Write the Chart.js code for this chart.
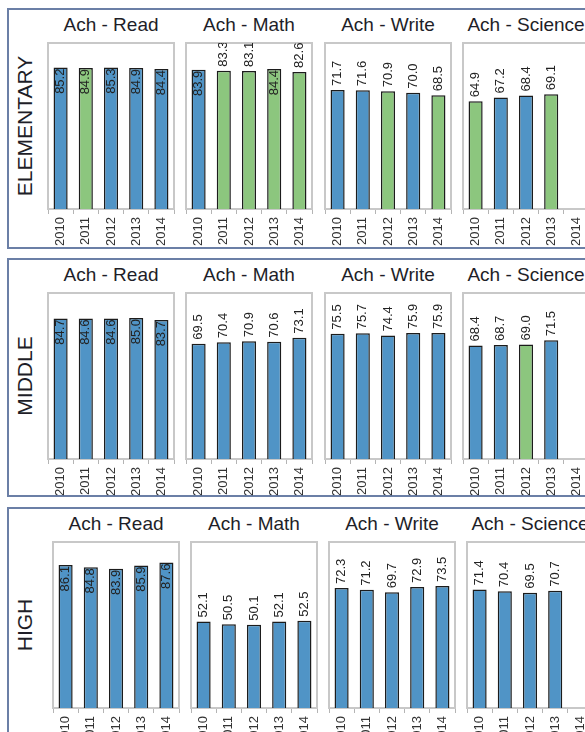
<!DOCTYPE html>
<html>
<head>
<meta charset="utf-8">
<script src="https://cdn.jsdelivr.net/npm/chart.js@4.4.1/dist/chart.umd.min.js"></script>
<style>
  body { margin: 0; width: 585px; height: 732px; overflow: hidden; background: #fff; position: relative;
         font-family: "Liberation Sans", Arial, sans-serif; }
  .group { position: absolute; border: 2px solid #6b7fa6; box-sizing: border-box; }
  .level { position: absolute; width: 200px; height: 24px; line-height: 24px; text-align: center;
           font-size: 21px; color: #1e1e28; transform: rotate(-90deg); }
  .title { position: absolute; height: 22px; line-height: 22px; text-align: center;
           font-size: 19px; color: #1e1e28; white-space: nowrap; }
  canvas { position: absolute; }
</style>
</head>
<body>
<script>
const years = ["2010", "2011", "2012", "2013", "2014"];
const subjects = ["Ach - Read", "Ach - Math", "Ach - Write", "Ach - Science"];
const levels = ["ELEMENTARY", "MIDDLE", "HIGH"];

// one list per subject (Read, Math, Write, Science), values by year
const elementaryScores = [
  [85.2, 84.9, 85.3, 84.9, 84.4],
  [83.9, 83.3, 83.1, 84.4, 82.6],
  [71.7, 71.6, 70.9, 70.0, 68.5],
  [64.9, 67.2, 68.4, 69.1, null],
];
const middleScores = [
  [84.7, 84.6, 84.6, 85.0, 83.7],
  [69.5, 70.4, 70.9, 70.6, 73.1],
  [75.5, 75.7, 74.4, 75.9, 75.9],
  [68.4, 68.7, 69.0, 71.5, null],
];
const highScores = [
  [86.1, 84.8, 83.9, 85.9, 87.6],
  [52.1, 50.5, 50.1, 52.1, 52.5],
  [72.3, 71.2, 69.7, 72.9, 73.5],
  [71.4, 70.4, 69.5, 70.7, null],
];

// 1 = green bar
const elementaryFlags = [
  [0, 1, 0, 0, 0],
  [0, 1, 1, 1, 1],
  [0, 0, 1, 0, 1],
  [1, 0, 0, 1, 0],
];
const middleFlags = [
  [0, 0, 0, 0, 0],
  [0, 0, 0, 0, 0],
  [0, 0, 0, 0, 0],
  [0, 0, 1, 0, 0],
];
const highFlags = [
  [0, 0, 0, 0, 0],
  [0, 0, 0, 0, 0],
  [0, 0, 0, 0, 0],
  [0, 0, 0, 0, 0],
];

const levelScores = [elementaryScores, middleScores, highScores];
const levelFlags = [elementaryFlags, middleFlags, highFlags];

const BLUE = "#5094c6";
const GREEN = "#8cc67e";
const FONT = "'Liberation Sans', Arial, sans-serif";

// layout of the small multiples
const plotTops = [43, 293, 542];
const plotLefts = [
  [48, 186, 325, 463],
  [48, 186, 325, 463],
  [53, 191, 329, 467],
];
const groupBoxes = [
  { top: 8, height: 241 },
  { top: 258, height: 239 },
  { top: 507, height: 300 },
];
const plotW = 126;
const plotH = 166;
const axisH = 40;
const padX = 6;

const plotFrame = {
  id: "plotFrame",
  beforeDatasetsDraw(chart) {
    const { ctx, chartArea: a } = chart;
    ctx.save();
    ctx.strokeStyle = "#c8c8c8";
    ctx.lineWidth = 2;
    ctx.strokeRect(a.left, a.top, a.right - a.left, a.bottom - a.top);
    ctx.restore();
  },
};

const barValues = {
  id: "barValues",
  afterDatasetsDraw(chart) {
    const { ctx, chartArea: a } = chart;
    const meta = chart.getDatasetMeta(0);
    const data = chart.data.datasets[0].data;
    ctx.save();
    ctx.beginPath();
    ctx.rect(a.left, a.top, a.right - a.left, a.bottom - a.top);
    ctx.clip();
    ctx.font = "13px " + FONT;
    ctx.fillStyle = "#222";
    ctx.textBaseline = "middle";
    meta.data.forEach((bar, i) => {
      const v = data[i];
      if (v == null) return;
      const text = v.toFixed(1);
      ctx.save();
      ctx.translate(bar.x, bar.y);
      ctx.rotate(-Math.PI / 2);
      if (v >= 83.5) {
        // high bars carry the value inside, hanging from the top
        ctx.textAlign = "right";
        ctx.fillText(text, -1, 0);
      } else {
        ctx.textAlign = "left";
        ctx.fillText(text, 4, 0);
      }
      ctx.restore();
    });
    ctx.restore();
  },
};

function addDiv(cls, text, style) {
  const el = document.createElement("div");
  el.className = cls;
  el.textContent = text;
  Object.assign(el.style, style);
  document.body.appendChild(el);
  return el;
}

function drawPanel(row, col) {
  const left = plotLefts[row][col];
  const top = plotTops[row];
  const scores = levelScores[row][col];
  const flags = levelFlags[row][col];

  addDiv("title", subjects[col], {
    left: left - 20 + "px",
    width: plotW + 40 + "px",
    top: top - 29 + "px",
  });

  const canvas = document.createElement("canvas");
  canvas.width = plotW + 2 * padX;
  canvas.height = plotH + 2 + axisH;
  canvas.style.left = left - padX + "px";
  canvas.style.top = top - 2 + "px";
  document.body.appendChild(canvas);

  new Chart(canvas, {
    type: "bar",
    data: {
      labels: years,
      datasets: [
        {
          data: scores,
          backgroundColor: flags.map((f) => (f ? GREEN : BLUE)),
          borderColor: "#1c1c1c",
          borderWidth: 1.5,
          barPercentage: 0.56,
          categoryPercentage: 1,
        },
      ],
    },
    options: {
      responsive: false,
      animation: false,
      devicePixelRatio: 1,
      layout: { padding: { left: padX, right: padX, top: 2, bottom: 0 } },
      plugins: { legend: { display: false }, tooltip: { enabled: false } },
      scales: {
        y: { display: false, min: 0, max: 100 },
        x: {
          grid: {
            offset: true,
            drawOnChartArea: false,
            drawTicks: true,
            tickLength: 5,
            color: "#b4b4b4",
          },
          border: { display: false },
          ticks: {
            autoSkip: false,
            minRotation: 90,
            maxRotation: 90,
            padding: 3,
            color: "#333",
            font: { family: FONT, size: 13 },
          },
          afterFit(scale) {
            scale.height = axisH;
            scale.paddingLeft = 0;
            scale.paddingRight = 0;
          },
        },
      },
    },
    plugins: [plotFrame, barValues],
  });
}

groupBoxes.forEach((g) => {
  addDiv("group", "", { left: "7px", top: g.top + "px", width: "600px", height: g.height + "px" });
});

levels.forEach((name, row) => {
  addDiv("level", name, { left: 25 - 100 + "px", top: plotTops[row] + plotH / 2 - 12 + "px" });
  subjects.forEach((s, col) => drawPanel(row, col));
});
</script>
</body>
</html>
